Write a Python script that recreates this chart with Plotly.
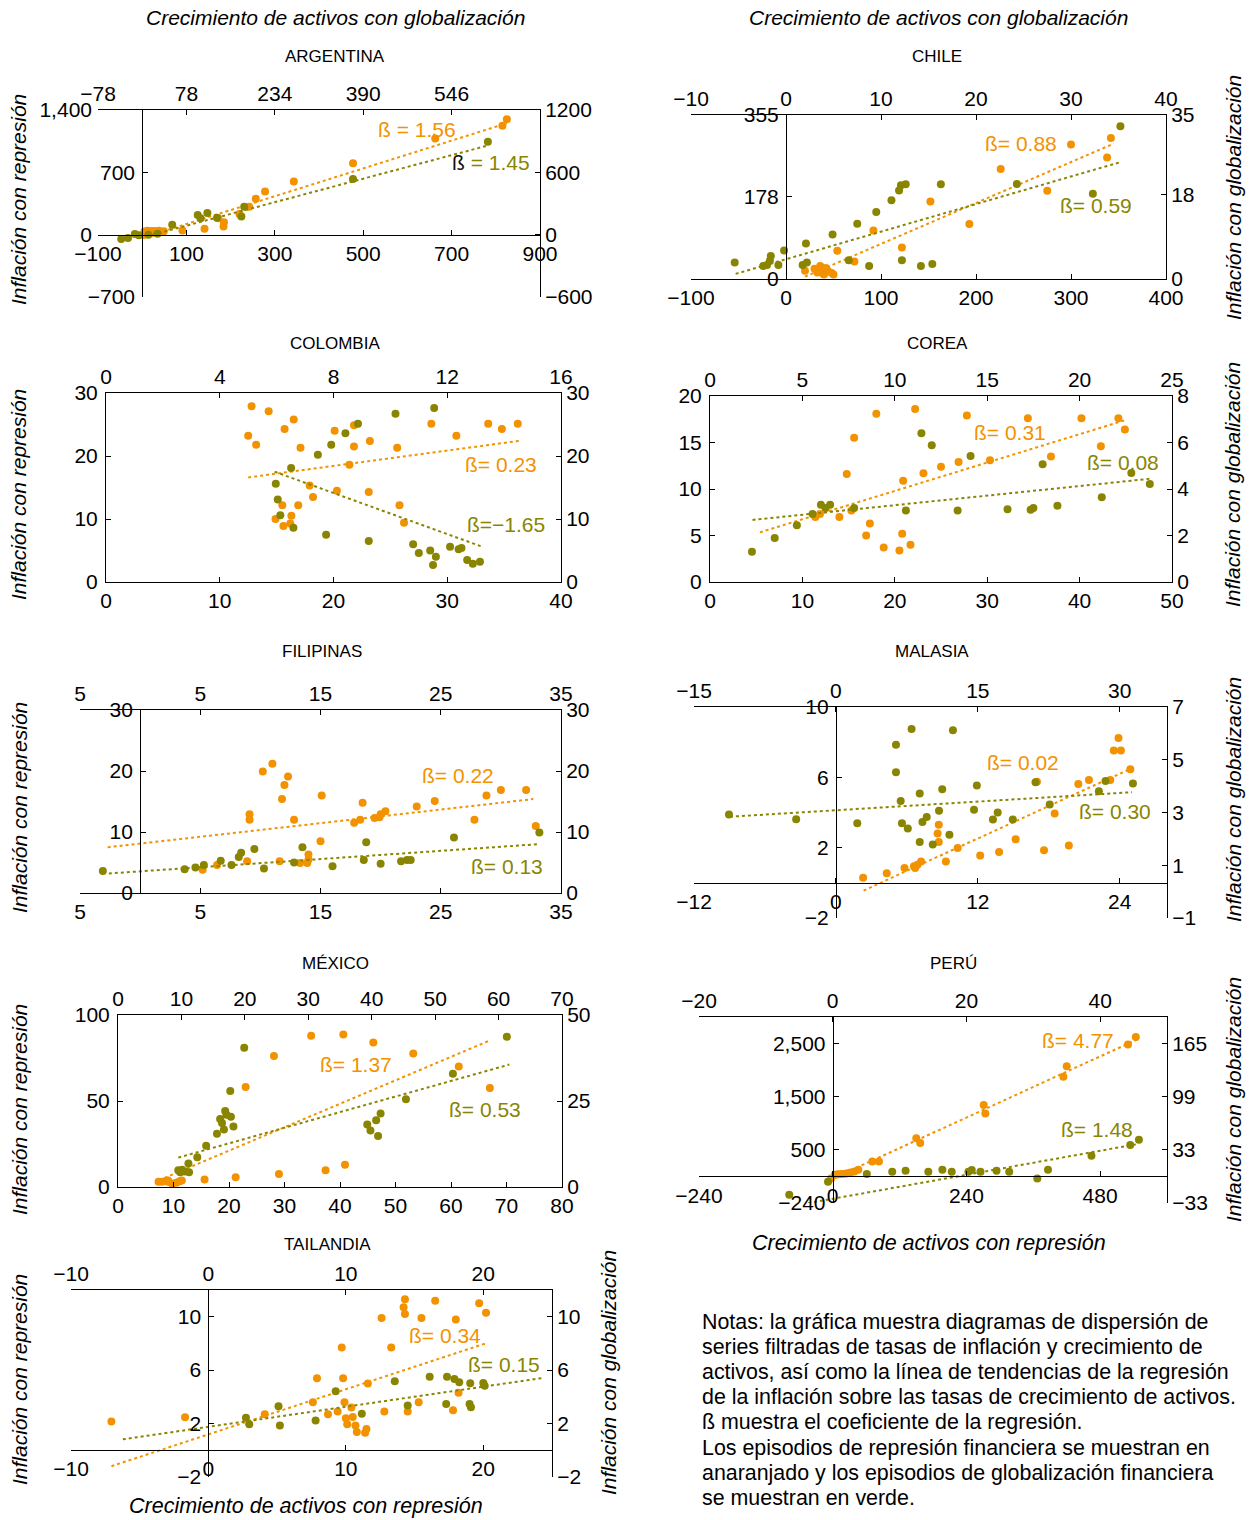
import plotly.graph_objects as go

W, H = 1249, 1520          # reference canvas = figure size
ORANGE = "#F39200"
OLIVE = "#8A8500"
FONT = "Liberation Sans, Arial, Helvetica, sans-serif"

# ---------------- DATA (orange = represión: bottom x / left y; green = globalización: top x / right y)
ARG_REP_X = [825, 815, 663, 477, 343, 278, 257, 242, 220, 185, 184, 172, 141, 91, 49, 5, 12, 18, 25, 32, 38, 10, 22, 30, 3]
ARG_REP_Y = [1297, 1223, 1080, 803, 597, 486, 402, 313, 232, 140, 92, 184, 66, 48, 37, 35, 45, 40, 42, 38, 45, 10, 18, 25, -5]
ARG_GLO_X = [610, 372, 180, 175, 132, 115, 98, 103, 53, 27, 11, -6, -13, -25, -37]
ARG_GLO_Y = [894, 537, 268, 174, 164, 208, 189, 158, 95, 9, 0, -6, 6, -32, -41]
ARG_REP_FIT_X = [20, 825]
ARG_REP_FIT_Y = [-5, 1251]
ARG_GLO_FIT_X = [8, 610]
ARG_GLO_FIT_Y = [-15, 858]

CHL_REP_X = [342, 300, 338, 226, 275, 152, 193, 92, 122, 54, 72, 20, 30, 34, 36, 39, 42, 44, 48, 50, 33, 40]
CHL_REP_Y = [305, 291, 263, 238, 191, 168, 119, 105, 68, 61, 38, 18, 22, 17, 28, 12, 24, 18, 13, 10, 14, 10]
CHL_GLO_X = [35.2, 24.3, 32.3, 16.3, 12.6, 12.1, 11.9, 11.1, 9.5, 7.5, 4.9, 2.1, -0.2, -1.6, -1.7, -2.4, -0.8, -2.0,
             -5.4, 1.75, 2.2, 6.6, 8.75, 12.2, 14.2, 15.4]
CHL_GLO_Y = [32.6, 20.3, 18.2, 20.2, 20.2, 20.0, 18.9, 16.8, 14.3, 11.8, 9.5, 7.6, 6.1, 4.9, 3.9, 2.8, 3.0, 3.0,
             3.5, 3.0, 3.5, 4.0, 2.8, 4.0, 2.8, 3.2]
CHL_REP_FIT_X = [20, 345]
CHL_REP_FIT_Y = [5, 293]
CHL_GLO_FIT_X = [-5.3, 35.3]
CHL_GLO_FIT_Y = [1.1, 25.0]

COL_REP_X = [12.8, 12.5, 13.2, 14.3, 15.7, 16.5, 17.1, 20.1, 21.8, 21.8, 21.4, 23.2, 25.6, 28.6, 30.8, 33.6, 34.8,
             36.2, 17.9, 18.2, 20.3, 23.1, 25.8, 26.2, 15.5, 16.9, 16.3, 14.9, 15.6, 16.2]
COL_REP_Y = [27.9, 23.2, 21.8, 27.1, 24.3, 25.8, 21.3, 24.0, 24.9, 21.5, 18.6, 22.4, 21.3, 25.1, 23.2, 25.1, 24.3,
             25.1, 15.3, 13.5, 14.5, 14.3, 12.2, 9.4, 12.2, 12.2, 10.5, 10.0, 8.9, 9.3]
COL_GLO_X = [11.54, 10.18, 8.86, 8.42, 7.92, 7.45, 6.51, 5.97, 6.04, 6.13, 6.59, 7.74, 9.24, 10.8, 11.0, 11.4, 11.5,
             11.6, 12.1, 12.4, 12.5, 12.7, 12.9, 13.15]
COL_GLO_Y = [27.6, 26.7, 25.1, 23.6, 21.8, 20.2, 18.1, 15.6, 13.1, 10.6, 8.6, 7.5, 6.5, 6.0, 4.6, 5.0, 2.7,
             4.0, 5.6, 5.2, 5.4, 3.5, 2.9, 3.2]
COL_REP_FIT_X = [12.5, 36.3]
COL_REP_FIT_Y = [16.6, 22.4]
COL_GLO_FIT_X = [5.93, 13.2]
COL_GLO_FIT_Y = [17.5, 5.65]

KOR_REP_X = [18, 22.2, 27.8, 34.4, 40.2, 44.2, 44.9, 42.3, 36.9, 30.3, 26.9, 25, 23.1, 20.9, 15.6, 14.8, 15.3, 14,
             11.9, 11.4, 17.3, 16.9, 18.8, 20.8, 20.5, 21.7]
KOR_REP_Y = [18.1, 18.6, 17.9, 17.6, 17.6, 17.6, 16.4, 14.6, 13.5, 13.1, 12.9, 12.4, 11.7, 10.9, 15.5, 11.6, 7.7, 7.0,
             7.3, 7.0, 6.3, 5.0, 3.7, 5.2, 3.4, 4.0]
KOR_GLO_X = [11.44, 12.0, 14.1, 18.0, 22.8, 23.8, 21.2, 18.8, 17.5, 17.35, 16.1, 13.4, 10.6, 7.8, 6.5, 6.0, 6.25,
             5.55, 4.7, 3.5, 2.27]
KOR_GLO_Y = [6.4, 5.88, 5.42, 5.06, 4.69, 4.22, 3.65, 3.28, 3.18, 3.11, 3.13, 3.07, 3.07, 3.18, 3.32, 3.32, 3.18,
             2.93, 2.44, 1.89, 1.3]
KOR_REP_FIT_X = [5.4, 45.1]
KOR_REP_FIT_Y = [5.34, 17.45]
KOR_GLO_FIT_X = [2.3, 23.8]
KOR_GLO_FIT_Y = [2.67, 4.44]

PHL_REP_X = [11.0, 10.2, 12.3, 12.0, 11.8, 9.1, 9.1, 12.8, 15.1, 18.5, 17.8, 18.3, 19.5, 19.9, 20.0, 20.4, 23.0, 24.5,
             27.8, 28.8, 30.0, 32.1, 32.9, 15.0, 14.0, 14.0, 13.9, 13.3, 11.6, 8.9, 6.4, 5.2]
PHL_REP_Y = [21.2, 19.9, 19.1, 17.7, 15.4, 12.9, 12.0, 12.0, 16.0, 14.8, 11.5, 12.0, 12.3, 12.4, 12.9, 13.4, 14.2, 15.1,
             12.0, 16.0, 16.9, 16.9, 11.0, 8.5, 6.3, 5.5, 4.9, 4.9, 5.2, 5.2, 4.6, 3.8]
PHL_GLO_X = [-3.1, 3.7, 4.6, 5.3, 6.7, 7.6, 8.2, 8.4, 9.5, 10.3, 12.8, 13.5, 16.0, 18.6, 18.8, 20.0, 21.7, 22.2, 22.5,
             26.1, 33.2]
PHL_GLO_Y = [3.6, 3.9, 4.2, 4.6, 5.3, 4.6, 5.9, 6.6, 7.2, 4.0, 5.0, 7.5, 4.4, 5.4, 8.3, 4.8, 5.2, 5.4, 5.4,
             9.1, 9.9]
PHL_REP_FIT_X = [-2.7, 32.7]
PHL_REP_FIT_Y = [7.5, 15.4]
PHL_GLO_FIT_X = [-2.6, 33.1]
PHL_GLO_FIT_Y = [3.2, 8.0]

MYS_REP_X = [23.9, 23.5, 24.1, 24.9, 23.2, 21.4, 20.5, 17.0, 18.5, 19.7, 17.6, 15.2, 13.8, 12.2, 10.3, 9.3, 8.7, 8.6,
             8.7, 7.2, 6.9, 6.7, 6.6, 5.8, 4.3, 2.3]
MYS_REP_Y = [8.23, 7.52, 7.52, 6.46, 5.85, 5.85, 5.62, 5.75, 3.94, 2.13, 1.85, 2.48, 1.75, 1.56, 1.98, 1.22, 3.31, 2.8,
             2.32, 1.22, 1.03, 0.84, 0.95, 0.84, 0.55, 0.29]
MYS_GLO_X = [-11.3, -4.2, 2.26, 6.35, 6.35, 6.85, 6.98, 7.6, 8.0, 8.86, 8.86, 9.15, 9.6, 10.24, 10.9, 11.24, 12.0,
             12.37, 14.6, 14.9, 16.6, 17.1, 18.7, 21.1, 22.6, 27.8, 28.5, 31.4]
MYS_GLO_Y = [2.92, 2.74, 2.59, 5.57, 4.53, 3.44, 2.59, 2.39, 6.17, 3.72, 1.88, 2.64, 2.83, 1.79, 3.07, 3.88, 2.16,
             6.12, 3.1, 4.02, 2.73, 3.0, 2.73, 4.15, 3.3, 3.81, 4.19, 4.1]
MYS_REP_FIT_X = [2.34, 25.0]
MYS_REP_FIT_Y = [-0.44, 6.51]
MYS_GLO_FIT_X = [-11.2, 31.3]
MYS_GLO_FIT_Y = [2.84, 3.77]

MEX_REP_X = [34.8, 40.6, 46.0, 28.1, 53.2, 61.4, 23.0, 67.0, 40.9, 37.4, 29.0, 21.2, 15.6, 7.3, 7.9, 8.5, 9.2, 9.8,
             10.5, 11.1, 11.5, 9.0]
MEX_REP_Y = [88.0, 88.6, 84.0, 76.2, 77.6, 70.0, 58.2, 57.6, 12.9, 9.7, 7.6, 5.7, 4.4, 3.1, 3.1, 3.4, 2.9, 1.9,
             2.5, 3.4, 3.8, 3.8]
MEX_GLO_X = [61.3, 52.8, 45.4, 41.4, 40.7, 39.3, 39.8, 41.0, 19.9, 17.7, 16.9, 17.1, 17.8, 16.1, 16.4, 18.2, 16.7,
             15.6, 13.9, 12.5, 11.1, 9.5, 10.1, 10.5, 11.2, 9.8]
MEX_GLO_Y = [43.7, 32.9, 25.5, 21.4, 19.4, 18.2, 16.4, 14.8, 40.5, 27.9, 22.1, 21.0, 20.4, 19.8, 18.6, 17.6, 16.7,
             15.5, 12.0, 8.65, 6.8, 4.85, 5.0, 4.5, 4.3, 4.3]
MEX_REP_FIT_X = [8.4, 67.0]
MEX_REP_FIT_Y = [5.3, 85.2]
MEX_GLO_FIT_X = [9.5, 61.7]
MEX_GLO_FIT_Y = [8.55, 35.6]

PER_REP_X = [544, 530, 420, 414, 271, 274, 150, 157, 83, 71, 46, 39, 32, 27, 22, 16, 11, 7, 4, -3]
PER_REP_Y = [2623, 2484, 2075, 1874, 1346, 1182, 717, 629, 283, 283, 126, 94, 75, 60, 50, 45, 40, 35, 30, -38]
PER_GLO_X = [45.8, 44.5, 38.7, 32.2, 30.6, 26.4, 24.5, 22.1, 20.8, 20.3, 17.8, 16.4, 14.3, 10.9, 8.9, 5.1, -0.7, -6.5]
PER_GLO_Y = [45.6, 39.0, 25.7, 8.3, -2.5, 5.8, 7.1, 5.8, 7.9, 5.8, 5.8, 8.3, 5.8, 7.1, 5.8, 2.9, -6.6, -22.8]
PER_REP_FIT_X = [-7, 547]
PER_REP_FIT_Y = [-75, 2579]
PER_GLO_FIT_X = [-13.4, 45.6]
PER_GLO_FIT_Y = [-47.7, 40.2]

THA_REP_X = [-7.06, -1.7, 14.3, 14.2, 14.3, 16.5, 19.7, 20.2, 12.6, 15.5, 18.0, 9.7, 13.3, 7.9, 9.8, 11.6, 18.2, 7.6,
             9.9, 15.3, 4.1, 8.7, 9.4, 10.4, 12.8, 14.5, 17.8, 10.0, 10.5, 10.1, 10.7, 10.8, 11.4, 11.5]
THA_REP_Y = [2.16, 2.48, 11.3, 10.7, 10.2, 11.2, 11.0, 10.3, 9.9, 9.9, 9.8, 7.7, 7.7, 5.4, 5.4, 5.0, 4.3, 3.6,
             3.6, 3.6, 2.7, 2.7, 2.9, 3.2, 2.9, 2.9, 3.0, 2.4, 2.5, 1.94, 1.86, 1.36, 1.32, 1.6]
THA_GLO_X = [2.73, 2.97, 5.1, 5.2, 7.8, 9.26, 11.16, 13.56, 14.5, 16.1, 17.3, 17.36, 17.9, 18.25, 19.0, 19.1, 19.05,
             20.0, 20.1]
THA_GLO_Y = [2.43, 1.94, 3.3, 1.86, 2.23, 4.42, 2.73, 5.16, 3.35, 5.5, 3.47, 5.5, 5.33, 5.09, 3.47, 3.23, 5.01,
             5.04, 4.84]
THA_REP_FIT_X = [-7.06, 20.2]
THA_REP_FIT_Y = [-1.19, 8.01]
THA_GLO_FIT_X = [-6.23, 24.3]
THA_GLO_FIT_Y = [0.82, 5.41]

# Tick values / labels
ARG_TICKS = dict(xb=([-100, 100, 300, 500, 700, 900], ["−100", "100", "300", "500", "700", "900"]),
                 xt=([-78, 78, 234, 390, 546], ["−78", "78", "234", "390", "546"]),
                 yl=([-700, 700], ["−700", "700"]),
                 yr=([-600, 0, 600, 1200], ["−600", "0", "600", "1200"]))
ARG_OUTER_YTICKS = ([0, 1400], ["0", "1,400"])
CHL_TICKS = dict(xb=([-100, 0, 100, 200, 300, 400], ["−100", "0", "100", "200", "300", "400"]),
                 xt=([-10, 0, 10, 20, 30, 40], ["−10", "0", "10", "20", "30", "40"]),
                 yl=([0, 178, 355], ["0", "178", "355"]),
                 yr=([0, 18, 35], ["0", "18", "35"]))
COL_TICKS = dict(xb=([0, 10, 20, 30, 40], ["0", "10", "20", "30", "40"]),
                 xt=([0, 4, 8, 12, 16], ["0", "4", "8", "12", "16"]),
                 yl=([0, 10, 20, 30], ["0", "10", "20", "30"]),
                 yr=([0, 10, 20, 30], ["0", "10", "20", "30"]))
KOR_TICKS = dict(xb=([0, 10, 20, 30, 40, 50], ["0", "10", "20", "30", "40", "50"]),
                 xt=([0, 5, 10, 15, 20, 25], ["0", "5", "10", "15", "20", "25"]),
                 yl=([0, 5, 10, 15, 20], ["0", "5", "10", "15", "20"]),
                 yr=([0, 2, 4, 6, 8], ["0", "2", "4", "6", "8"]))
PHL_TICKS = dict(xb=([-5, 5, 15, 25, 35], ["5", "5", "15", "25", "35"]),
                 xt=([-5, 5, 15, 25, 35], ["5", "5", "15", "25", "35"]),
                 yl=([0, 10, 20, 30], ["0", "10", "20", "30"]),
                 yr=([0, 10, 20, 30], ["0", "10", "20", "30"]))
MYS_TICKS = dict(xb=([-12, 0, 12, 24], ["−12", "0", "12", "24"]),
                 xt=([-15, 0, 15, 30], ["−15", "0", "15", "30"]),
                 yl=([-2, 2, 6, 10], ["−2", "2", "6", "10"]),
                 yr=([-1, 1, 3, 5, 7], ["−1", "1", "3", "5", "7"]))
MEX_TICKS = dict(xb=([0, 10, 20, 30, 40, 50, 60, 70, 80], ["0", "10", "20", "30", "40", "50", "60", "70", "80"]),
                 xt=([0, 10, 20, 30, 40, 50, 60, 70], ["0", "10", "20", "30", "40", "50", "60", "70"]),
                 yl=([0, 50, 100], ["0", "50", "100"]),
                 yr=([0, 25, 50], ["0", "25", "50"]))
PER_TICKS = dict(xb=([-240, 0, 240, 480], ["−240", "0", "240", "480"]),
                 xt=([-20, 0, 20, 40], ["−20", "0", "20", "40"]),
                 yl=([-500, 500, 1500, 2500], ["−240", "500", "1,500", "2,500"]),
                 yr=([-33, 33, 99, 165], ["−33", "33", "99", "165"]))
THA_TICKS = dict(xb=([-10, 0, 10, 20], ["−10", "0", "10", "20"]),
                 xt=([-10, 0, 10, 20], ["−10", "0", "10", "20"]),
                 yl=([-2, 2, 6, 10], ["−2", "2", "6", "10"]),
                 yr=([-2, 2, 6, 10], ["−2", "2", "6", "10"]))

# ---------------- LAYOUT of panels (reference-pixel frames and axis ranges)
panels = [
    dict(title="ARGENTINA", frame=(98, 540, 110, 297), xb=[-100, 900], xt=[-78, 702], yl=[-700, 1400], yr=[-600, 1200],
         ticks=ARG_TICKS, outer=ARG_OUTER_YTICKS, rep=(ARG_REP_X, ARG_REP_Y), glo=(ARG_GLO_X, ARG_GLO_Y),
         repfit=(ARG_REP_FIT_X, ARG_REP_FIT_Y), glofit=(ARG_GLO_FIT_X, ARG_GLO_FIT_Y),
         replab=("ß = 1.56", 621, 1186), glolab=("<span style='color:#111'>ß</span> = 1.45", 788, 810),
         tpos=(335, 57)),
    dict(title="CHILE", frame=(691, 1166, 115, 279), xb=[-100, 400], xt=[-10, 40], yl=[0, 355], yr=[0, 35],
         ticks=CHL_TICKS, rep=(CHL_REP_X, CHL_REP_Y), glo=(CHL_GLO_X, CHL_GLO_Y),
         repfit=(CHL_REP_FIT_X, CHL_REP_FIT_Y), glofit=(CHL_GLO_FIT_X, CHL_GLO_FIT_Y),
         replab=("ß= 0.88", 247, 293), glolab=("ß= 0.59", 326, 159), tpos=(937, 57)),
    dict(title="COLOMBIA", frame=(106, 561, 393, 582), xb=[0, 40], xt=[0, 16], yl=[0, 30], yr=[0, 30],
         ticks=COL_TICKS, rep=(COL_REP_X, COL_REP_Y), glo=(COL_GLO_X, COL_GLO_Y),
         repfit=(COL_REP_FIT_X, COL_REP_FIT_Y), glofit=(COL_GLO_FIT_X, COL_GLO_FIT_Y),
         replab=("ß= 0.23", 34.7, 18.6), glolab=("ß=−1.65", 35.2, 9.1), tpos=(335, 343)),
    dict(title="COREA", frame=(710, 1172, 396, 582), xb=[0, 50], xt=[0, 25], yl=[0, 20], yr=[0, 8],
         ticks=KOR_TICKS, rep=(KOR_REP_X, KOR_REP_Y), glo=(KOR_GLO_X, KOR_GLO_Y),
         repfit=(KOR_REP_FIT_X, KOR_REP_FIT_Y), glofit=(KOR_GLO_FIT_X, KOR_GLO_FIT_Y),
         replab=("ß= 0.31", 32.5, 16.1), glolab=("ß= 0.08", 44.7, 12.8), tpos=(937, 343)),
    dict(title="FILIPINAS", frame=(80, 561, 710, 893), xb=[-5, 35], xt=[-5, 35], yl=[0, 30], yr=[0, 30],
         ticks=PHL_TICKS, rep=(PHL_REP_X, PHL_REP_Y), glo=(PHL_GLO_X, PHL_GLO_Y),
         repfit=(PHL_REP_FIT_X, PHL_REP_FIT_Y), glofit=(PHL_GLO_FIT_X, PHL_GLO_FIT_Y),
         replab=("ß= 0.22", 26.4, 19.2), glolab=("ß= 0.13", 30.5, 4.3), tpos=(322, 651)),
    dict(title="MALASIA", frame=(694, 1167, 707, 918), xb=[-12, 28], xt=[-15, 35], yl=[-2, 10], yr=[-1, 7],
         ticks=MYS_TICKS, rep=(MYS_REP_X, MYS_REP_Y), glo=(MYS_GLO_X, MYS_GLO_Y),
         repfit=(MYS_REP_FIT_X, MYS_REP_FIT_Y), glofit=(MYS_GLO_FIT_X, MYS_GLO_FIT_Y),
         replab=("ß= 0.02", 15.8, 6.86), glolab=("ß= 0.30", 23.6, 4.08), tpos=(932, 651)),
    dict(title="MÉXICO", frame=(118, 562, 1015, 1187), xb=[0, 80], xt=[0, 70], yl=[0, 100], yr=[0, 50],
         ticks=MEX_TICKS, rep=(MEX_REP_X, MEX_REP_Y), glo=(MEX_GLO_X, MEX_GLO_Y),
         repfit=(MEX_REP_FIT_X, MEX_REP_FIT_Y), glofit=(MEX_GLO_FIT_X, MEX_GLO_FIT_Y),
         replab=("ß= 1.37", 42.8, 71.3), glolab=("ß= 0.53", 66.1, 45.2), tpos=(335, 963)),
    dict(title="PERÚ", frame=(699, 1167, 1017, 1203), xb=[-240, 600], xt=[-20, 50], yl=[-500, 3000], yr=[-33, 198],
         ticks=PER_TICKS, rep=(PER_REP_X, PER_REP_Y), glo=(PER_GLO_X, PER_GLO_Y),
         repfit=(PER_REP_FIT_X, PER_REP_FIT_Y), glofit=(PER_GLO_FIT_X, PER_GLO_FIT_Y),
         replab=("ß= 4.77", 441, 2566), glolab=("ß= 1.48", 475, 880), tpos=(953, 963)),
    dict(title="TAILANDIA", frame=(71, 552, 1290, 1477), xb=[-10, 25], xt=[-10, 25], yl=[-2, 12], yr=[-2, 12],
         ticks=THA_TICKS, rep=(THA_REP_X, THA_REP_Y), glo=(THA_GLO_X, THA_GLO_Y),
         repfit=(THA_REP_FIT_X, THA_REP_FIT_Y), glofit=(THA_GLO_FIT_X, THA_GLO_FIT_Y),
         replab=("ß= 0.34", 17.2, 8.56), glolab=("ß= 0.15", 21.5, 6.45), tpos=(327, 1244)),
]


def PX(x):
    return x / W


def PY(y):
    return 1 - y / H


def axname(prefix, n):
    return prefix if n == 1 else f"{prefix}{n}"


fig = go.Figure()
layout_axes = {}
annotations = []

TICK_SIZE = 21
tickfont = dict(family=FONT, size=TICK_SIZE, color="black")
common = dict(showline=True, linecolor="black", linewidth=1, ticks="inside", ticklen=5, tickcolor="black",
              showgrid=False, zeroline=False, tickfont=tickfont, tickmode="array", fixedrange=True,
              automargin=False)

extra_axis = 2 * len(panels) + 1

for k, p in enumerate(panels):
    a, b = 2 * k + 1, 2 * k + 2
    xa, xb_, ya, yb = axname("x", a), axname("x", b), axname("y", a), axname("y", b)
    L, R, T, B = p["frame"]
    xd = [PX(L), PX(R)]
    yd = [PY(B), PY(T)]
    x0, x1 = p["xb"]
    y0, y1 = p["yl"]
    tk = p["ticks"]

    if y0 < 0:
        pos = yd[0] + (0 - y0) / (y1 - y0) * (yd[1] - yd[0])
        bot_anchor = dict(anchor="free", position=pos)
    else:
        bot_anchor = dict(anchor=ya)
    if x0 < 0:
        pos = xd[0] + (0 - x0) / (x1 - x0) * (xd[1] - xd[0])
        left_anchor = dict(anchor="free", position=pos)
    else:
        left_anchor = dict(anchor=xa)

    layout_axes[axname("xaxis", a)] = dict(domain=xd, range=p["xb"], side="bottom",
                                           tickvals=tk["xb"][0], ticktext=tk["xb"][1], **bot_anchor, **common)
    layout_axes[axname("yaxis", a)] = dict(domain=yd, range=p["yl"], side="left", ticklabelstandoff=3,
                                           tickvals=tk["yl"][0], ticktext=tk["yl"][1], **left_anchor, **common)
    layout_axes[axname("xaxis", b)] = dict(overlaying=xa, anchor=ya, range=p["xt"], side="top",
                                           tickvals=tk["xt"][0], ticktext=tk["xt"][1], **common)
    layout_axes[axname("yaxis", b)] = dict(overlaying=ya, anchor=xa, range=p["yr"], side="right",
                                           tickvals=tk["yr"][0], ticktext=tk["yr"][1], **common)

    if "outer" in p:
        # tick labels that the reference places at the outer frame edge (no line / ticks there)
        oc = dict(common)
        oc.update(showline=False, ticks="")
        ye = axname("y", extra_axis)
        layout_axes[axname("yaxis", extra_axis)] = dict(overlaying=ya, anchor="free", position=xd[0],
                                                        range=p["yl"], side="left", ticklabelstandoff=6,
                                                        tickvals=p["outer"][0], ticktext=p["outer"][1], **oc)
        fig.add_trace(go.Scatter(x=[None], y=[None], xaxis=xa, yaxis=ye, mode="markers",
                                 showlegend=False, hoverinfo="skip"))
        extra_axis += 1

    fig.add_trace(go.Scatter(x=p["repfit"][0], y=p["repfit"][1], mode="lines", xaxis=xa, yaxis=ya,
                             line=dict(color=ORANGE, width=2, dash="dot"), showlegend=False, hoverinfo="skip"))
    fig.add_trace(go.Scatter(x=p["rep"][0], y=p["rep"][1], mode="markers", xaxis=xa, yaxis=ya,
                             marker=dict(color=ORANGE, size=8, line=dict(width=0)), showlegend=False,
                             cliponaxis=False))
    fig.add_trace(go.Scatter(x=p["glofit"][0], y=p["glofit"][1], mode="lines", xaxis=xb_, yaxis=yb,
                             line=dict(color=OLIVE, width=2, dash="dot"), showlegend=False, hoverinfo="skip"))
    fig.add_trace(go.Scatter(x=p["glo"][0], y=p["glo"][1], mode="markers", xaxis=xb_, yaxis=yb,
                             marker=dict(color=OLIVE, size=8, line=dict(width=0)), showlegend=False,
                             cliponaxis=False))

    for (txt, lx, ly), col in ((p["replab"], ORANGE), (p["glolab"], OLIVE)):
        annotations.append(dict(text=txt, x=lx, y=ly, xref=xa, yref=ya, showarrow=False,
                                font=dict(family=FONT, size=21, color=col), xanchor="center", yanchor="middle"))

    tx, ty = p["tpos"]
    annotations.append(dict(text=p["title"], x=PX(tx), y=PY(ty), xref="paper", yref="paper", showarrow=False,
                            font=dict(family=FONT, size=17, color="black"), xanchor="center", yanchor="middle"))


def paper_text(text, x, y, size=21, angle=0, italic=True, xanchor="center", yanchor="middle", align="center"):
    t = f"<i>{text}</i>" if italic else text
    return dict(text=t, x=PX(x), y=PY(y), xref="paper", yref="paper", showarrow=False, textangle=angle,
                font=dict(family=FONT, size=size, color="black"), xanchor=xanchor, yanchor=yanchor, align=align)


TOP_TITLE = "Crecimiento de activos con globalización"
BOT_TITLE = "Crecimiento de activos con represión"
LEFT_TITLE = "Inflación con represión"
RIGHT_TITLE = "Inflación con globalización"

annotations.append(paper_text(TOP_TITLE, 335, 18, size=21))
annotations.append(paper_text(TOP_TITLE, 938, 18, size=21))
for yc in (200, 495, 808, 1110, 1380):
    annotations.append(paper_text(LEFT_TITLE, 19, yc, size=21, angle=-90))
for yc in (198, 485, 800, 1100):
    annotations.append(paper_text(RIGHT_TITLE, 1233, yc, size=21, angle=-90))
annotations.append(paper_text(RIGHT_TITLE, 608, 1373, size=21, angle=-90))
annotations.append(paper_text(BOT_TITLE, 929, 1243, size=21.5))
annotations.append(paper_text(BOT_TITLE, 306, 1506, size=21.5))

NOTE_LINES = ["Notas: la gráfica muestra diagramas de dispersión de",
              "series filtradas de tasas de inflación y crecimiento de",
              "activos, así como la línea de tendencias de la regresión",
              "de la inflación sobre las tasas de crecimiento de activos.",
              "ß muestra el coeficiente de la regresión.",
              "Los episodios de represión financiera se muestran en",
              "anaranjado y los episodios de globalización financiera",
              "se muestran en verde."]
for i, line in enumerate(NOTE_LINES):
    annotations.append(paper_text(line, 700, 1322 + i * 25.1, size=21.4, italic=False, xanchor="left",
                                  yanchor="middle", align="left"))

fig.update_layout(template="none", width=W, height=H, autosize=False, margin=dict(l=0, r=0, t=0, b=0, pad=0),
                  paper_bgcolor="white", plot_bgcolor="rgba(0,0,0,0)", showlegend=False,
                  annotations=annotations, **layout_axes)

# remove the default 8px page margin so the figure fills the browser window exactly
fig.write_html("out.html", config={"displayModeBar": False, "staticPlot": True},
               post_script="document.body.style.margin='0px';document.body.style.overflow='hidden';")
